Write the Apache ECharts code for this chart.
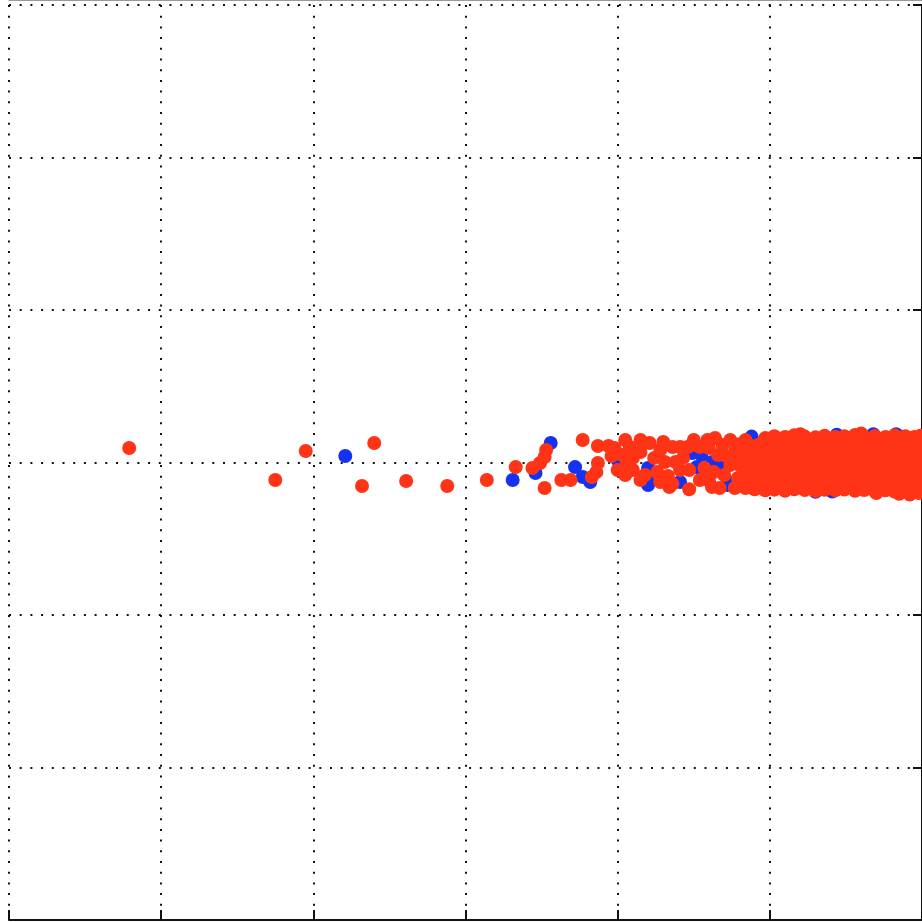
<!DOCTYPE html>
<html>
<head>
<meta charset="utf-8">
<style>
html,body{margin:0;padding:0;background:#fff;}
#chart{width:922px;height:922px;}
</style>
<script src="https://cdn.jsdelivr.net/npm/echarts/dist/echarts.min.js"></script>
</head>
<body>
<div id="chart"></div>
<script>
// Axis setup (tick labels are cropped out of the reference)
var xTicks = [0, 1, 2, 3, 4, 5, 6];
var yTicks = [-3, -2, -1, 0, 1, 2, 3];

// Blue group
var bluePoints = [
  [2.21, 0.043],
  [3.31, -0.115], [3.46, -0.069], [3.56, 0.128], [3.72, -0.030], [3.77, -0.095], [3.82, -0.128],
  [4.00, 0.016], [4.20, -0.036], [4.20, -0.148], [4.23, -0.102], [4.41, -0.128], [4.44, 0.095],
  [4.49, 0.062], [4.55, 0.049], [4.52, -0.030], [4.56, -0.095], [4.62, 0.003], [4.67, -0.030],
  [4.72, -0.148], [4.74, -0.134], [4.78, 0.095], [4.88, 0.170], [4.92, -0.030], [4.88, -0.161],
  [5.44, 0.182], [5.68, 0.186], [5.83, 0.186], [5.41, -0.190], [5.30, -0.192], [5.37, 0.05], [5.60, -0.10]
];

// Red group: sparse left tail
var redTail = [
  [0.79, 0.095], [1.75, -0.115], [1.95, 0.075], [2.40, 0.128], [2.32, -0.154],
  [2.61, -0.121], [2.88, -0.154], [3.14, -0.115]
];

// Red group: transition zone
var redMid = [
  [3.33, -0.030], [3.44, -0.036], [3.49, -0.003], [3.53, 0.082], [3.52, 0.036], [3.52, -0.167],
  [3.77, 0.148], [3.87, 0.108], [3.94, 0.108], [3.63, -0.115], [3.69, -0.115], [3.87, -0.003],
  [3.86, -0.062], [3.83, -0.095],
  [3.98, 0.095], [4.03, 0.049], [4.08, 0.102], [4.06, -0.003], [4.10, -0.049], [4.05, -0.082],
  [4.15, 0.069], [4.21, 0.128], [4.30, 0.134], [4.24, 0.030], [4.26, -0.062], [4.33, -0.088],
  [4.34, -0.161], [4.15, -0.115], [4.28, -0.128], [4.41, 0.102], [4.46, 0.102], [4.49, 0.115],
  [4.43, 0.030], [4.59, 0.148], [4.63, -0.062], [4.54, -0.115], [4.47, -0.049], [4.38, 0.003],
  [4.66, 0.049], [4.69, 0.115], [4.74, 0.148], [4.77, 0.069], [4.80, -0.016], [4.70, -0.082],
  [4.79, -0.102], [4.84, -0.167], [4.62, -0.161], [4.67, -0.167], [4.84, 0.148], [4.84, 0.016],
  [3.96, 0.043], [4.00, -0.049], [4.10, 0.030], [4.28, 0.082], [4.36, 0.102], [4.31, 0.003],
  [4.41, -0.049], [4.50, 0.148], [4.54, 0.102], [4.60, 0.095], [4.64, 0.161], [4.70, 0.049],
  [4.74, -0.016], [4.77, -0.167], [4.57, -0.036], [4.47, -0.175], [4.28, -0.102], [4.18, -0.082],
  [4.05, 0.148], [4.15, 0.148], [4.36, -0.140], [4.60, -0.120], [4.80, 0.120], [4.76, 0.030]
];

// Red group: dense band
var redBand = [
  [4.97, 0.160], [5.03, 0.172], [5.10, 0.168], [5.16, 0.178], [5.23, 0.170], [5.30, 0.165], [5.36, 0.176],
  [5.43, 0.168], [5.49, 0.172], [5.56, 0.180], [5.62, 0.170], [5.69, 0.174], [5.76, 0.168], [5.82, 0.178],
  [5.89, 0.172], [5.95, 0.168], [5.99, 0.175],
  [4.87, 0.112], [4.93, 0.118], [5.00, 0.108], [5.07, 0.115], [5.13, 0.110], [5.20, 0.105], [5.26, 0.114],
  [5.33, 0.109], [5.39, 0.117], [5.46, 0.111], [5.53, 0.106], [5.59, 0.113], [5.66, 0.119], [5.72, 0.110],
  [5.79, 0.114], [5.85, 0.108], [5.92, 0.116], [5.99, 0.111],
  [4.84, 0.045], [4.90, 0.055], [4.97, 0.050], [5.03, 0.046], [5.10, 0.054], [5.16, 0.049], [5.23, 0.052],
  [5.30, 0.044], [5.36, 0.051], [5.43, 0.056], [5.49, 0.047], [5.56, 0.050], [5.62, 0.053], [5.69, 0.046],
  [5.76, 0.051], [5.82, 0.055], [5.89, 0.048], [5.95, 0.052], [6.00, 0.049],
  [4.87, -0.012], [4.93, -0.004], [5.00, -0.010], [5.07, -0.015], [5.13, -0.006], [5.20, -0.011], [5.26, -0.008],
  [5.33, -0.014], [5.39, -0.009], [5.46, -0.005], [5.53, -0.012], [5.59, -0.010], [5.66, -0.016], [5.72, -0.007],
  [5.79, -0.011], [5.85, -0.009], [5.92, -0.013], [5.99, -0.008],
  [4.84, -0.066], [4.90, -0.072], [4.97, -0.068], [5.03, -0.075], [5.10, -0.070], [5.16, -0.064], [5.23, -0.071],
  [5.30, -0.069], [5.36, -0.074], [5.43, -0.067], [5.49, -0.070], [5.56, -0.073], [5.62, -0.066], [5.69, -0.071],
  [5.76, -0.069], [5.82, -0.075], [5.89, -0.068], [5.95, -0.072], [6.00, -0.070],
  [4.87, -0.125], [4.93, -0.130], [5.00, -0.122], [5.07, -0.128], [5.13, -0.133], [5.20, -0.126], [5.26, -0.121],
  [5.33, -0.129], [5.39, -0.124], [5.46, -0.131], [5.53, -0.127], [5.59, -0.123], [5.66, -0.130], [5.72, -0.126],
  [5.79, -0.132], [5.85, -0.128], [5.92, -0.125], [5.99, -0.131],
  [4.90, -0.175], [4.97, -0.182], [5.03, -0.178], [5.10, -0.185], [5.16, -0.176], [5.23, -0.181], [5.30, -0.187],
  [5.36, -0.179], [5.43, -0.183], [5.49, -0.177], [5.56, -0.186], [5.62, -0.180], [5.69, -0.188], [5.76, -0.182],
  [5.82, -0.190], [5.89, -0.185], [5.95, -0.192], [6.00, -0.188],
  [5.85, -0.205], [5.92, -0.210], [5.98, -0.200], [5.70, -0.200], [5.20, 0.185], [5.60, 0.190]
];

var redPoints = redTail.concat(redMid, redBand);

var gridDots = { color: '#111', width: 2, type: [2, 8.7] };

var chart = echarts.init(document.getElementById('chart'), null, { renderer: 'canvas' });
chart.setOption({
  animation: false,
  backgroundColor: '#ffffff',
  grid: { left: 9, right: 0, top: 5, bottom: 2, containLabel: false },
  xAxis: [{
    type: 'value', position: 'bottom',
    min: xTicks[0], max: xTicks[xTicks.length - 1], interval: 1,
    axisLine: { show: true, onZero: false, lineStyle: { color: '#111', width: 2 } },
    axisTick: { show: true, inside: true, length: 10, lineStyle: { color: '#111', width: 2 } },
    axisLabel: { show: false },
    splitLine: { show: true, showMinLine: true, showMaxLine: true, lineStyle: gridDots }
  }, {
    type: 'value', position: 'top', offset: 5,
    min: xTicks[0], max: xTicks[xTicks.length - 1], interval: 1,
    axisLine: { show: true, onZero: false, lineStyle: { color: '#999', width: 1 } },
    axisTick: { show: false }, axisLabel: { show: false }, splitLine: { show: false }
  }],
  yAxis: [{
    type: 'value', position: 'left',
    min: yTicks[0], max: yTicks[yTicks.length - 1], interval: 1,
    axisLine: { show: false, onZero: false }, axisTick: { show: false }, axisLabel: { show: false },
    splitLine: { show: true, showMinLine: true, showMaxLine: true, lineStyle: gridDots }
  }, {
    type: 'value', position: 'right',
    min: yTicks[0], max: yTicks[yTicks.length - 1], interval: 1,
    axisLine: { show: true, onZero: false, lineStyle: { color: '#111', width: 2 } },
    axisTick: { show: true, inside: true, length: 9, lineStyle: { color: '#111', width: 2 } },
    axisLabel: { show: false }, splitLine: { show: false }
  }],
  series: [{
    type: 'scatter', name: 'blue', xAxisIndex: 0, yAxisIndex: 0,
    symbol: 'circle', symbolSize: 14,
    itemStyle: { color: '#1432F0', opacity: 1 },
    data: bluePoints, z: 3
  }, {
    type: 'scatter', name: 'red', xAxisIndex: 0, yAxisIndex: 0,
    symbol: 'circle', symbolSize: 14,
    itemStyle: { color: '#FF3316', opacity: 1 },
    data: redPoints, z: 4
  }]
});
</script>
</body>
</html>
